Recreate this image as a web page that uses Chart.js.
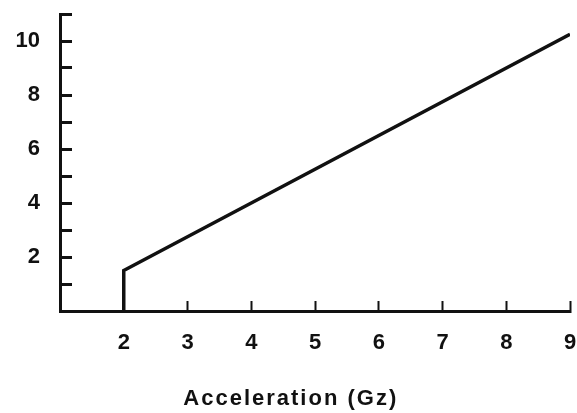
<!DOCTYPE html>
<html>
<head>
<meta charset="utf-8">
<script src="https://cdn.jsdelivr.net/npm/chart.js@4.4.1/dist/chart.umd.min.js"></script>
<style>
  html, body { margin: 0; padding: 0; background: #fff; }
  #wrap { width: 577px; height: 413px; }
</style>
</head>
<body>
<div id="wrap"><canvas id="canvas" width="577" height="413"></canvas></div>
<script>
// curve: flat threshold at 2 Gz then linear rise
var accel = [2, 2, 9];
var response = [0, 1.5, 10.25];
var xTickLabels = ['2', '3', '4', '5', '6', '7', '8', '9'];
var yTickLabels = ['2', '4', '6', '8', '10'];
var xTitle = 'Acceleration (Gz)';

var ink = '#111';
var font = { family: '"Liberation Sans", Arial, sans-serif', size: 22, weight: 'bold' };

var points = accel.map(function(x, i){
    return { x: x, y: response[i] };
});

// drop the label overhang padding so the plot box keeps its size
function noPad(scale){
    scale.paddingTop = 0;
    scale.paddingBottom = 0;
    scale.paddingLeft = 0;
    scale.paddingRight = 0;
}

// x title sits a bit left of the plot centre
var titlePlugin = {
    id: 'xTitle',
    afterDraw: function(chart){
        var ctx = chart.ctx;
        var xs = chart.scales.x;
        ctx.save();
        ctx.fillStyle = ink;
        ctx.font = 'bold 22px "Liberation Sans", Arial, sans-serif';
        ctx.letterSpacing = '2px';
        ctx.textAlign = 'center';
        ctx.textBaseline = 'middle';
        ctx.fillText(xTitle, xs.getPixelForValue(4.62), 399);
        ctx.restore();
    }
};

const ctx = document.getElementById('canvas').getContext('2d');
const myChart = new Chart(ctx, {
    type: 'scatter',
    data: {
        datasets: [{
            data: points,
            showLine: true,
            borderColor: ink,
            borderWidth: 3.5,
            pointRadius: 0,
            tension: 0
        }]
    },
    plugins: [titlePlugin],
    options: {
        responsive: false,
        animation: false,
        layout: { padding: { left: 0, right: 7, top: 14, bottom: 0 } },
        plugins: {
            legend: { display: false },
            tooltip: { enabled: false }
        },
        scales: {
            x: {
                type: 'linear',
                min: 1,
                max: 9,
                afterFit: function(scale){ scale.height = 102; noPad(scale); },
                afterBuildTicks: function(scale){
                    scale.ticks = [1].concat(xTickLabels.map(Number)).map(function(v){ return { value: v }; });
                },
                ticks: {
                    color: ink,
                    font: font,
                    padding: 29,
                    maxRotation: 0,
                    autoSkip: false,
                    callback: function(v){ return xTickLabels.indexOf(String(v)) >= 0 ? String(v) : ''; }
                },
                grid: {
                    drawOnChartArea: false,
                    tickLength: -10,
                    tickWidth: 2,
                    tickColor: ink
                },
                border: { color: ink, width: 3 }
            },
            y: {
                min: 0,
                max: 11,
                afterFit: function(scale){ scale.width = 60; noPad(scale); },
                ticks: {
                    stepSize: 1,
                    color: ink,
                    font: font,
                    padding: 32,
                    autoSkip: false,
                    callback: function(v){ return yTickLabels.indexOf(String(v)) >= 0 ? String(v) : ''; }
                },
                grid: {
                    drawOnChartArea: false,
                    tickLength: -12,
                    tickWidth: 3,
                    tickColor: ink
                },
                border: { color: ink, width: 3 }
            }
        }
    }
});
</script>
</body>
</html>
